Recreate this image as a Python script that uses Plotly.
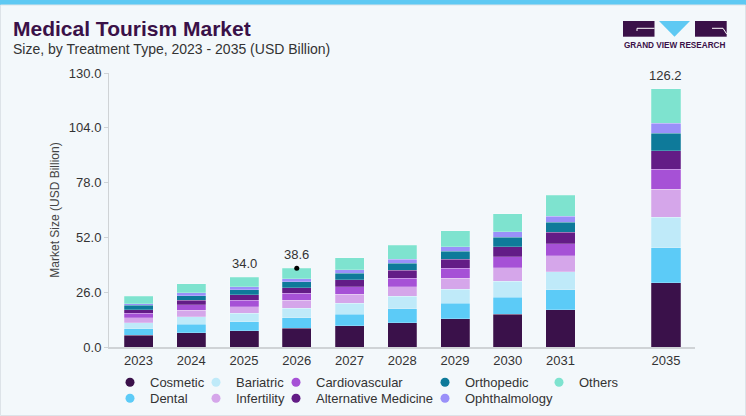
import plotly.graph_objects as go

# ---------------- data ----------------
years = ["2023", "2024", "2025", "2026", "2027", "2028", "2029", "2030", "2031", "2035"]
axis_categories = ["2023", "2024", "2025", "2026", "2027", "2028", "2029", "2030", "2031", " ", "2035"]

cosmetic = [5.5, 6.8, 7.8, 8.9, 10.2, 11.6, 13.3, 15.5, 17.7, 30.6]
dental = [3.2, 3.9, 4.3, 4.9, 5.4, 6.5, 7.4, 8.2, 9.5, 16.6]
bariatric = [2.8, 3.7, 3.9, 4.6, 5.1, 5.9, 6.6, 7.6, 8.5, 14.4]
infertility = [2.4, 3.0, 3.2, 3.8, 4.3, 4.7, 5.4, 6.4, 7.6, 13.3]
cardiovascular = [2.0, 2.6, 3.0, 3.2, 3.7, 3.9, 4.6, 5.2, 5.7, 9.5]
alternative_medicine = [1.8, 2.2, 2.5, 2.7, 3.1, 3.8, 4.3, 4.6, 5.4, 8.8]
orthopedic = [2.0, 2.2, 2.4, 2.8, 3.2, 3.3, 3.9, 4.6, 4.9, 8.3]
ophthalmology = [0.8, 1.3, 1.4, 1.6, 1.6, 1.9, 2.1, 2.5, 2.7, 4.7]
others = [3.5, 4.3, 4.7, 4.9, 5.7, 6.6, 7.6, 8.7, 10.0, 16.3]

label_years = ["2025", "2026", "2035"]
label_texts = ["34.0", "38.6", "126.2"]
dot_year = "2026"

y_ticks = [0, 26, 52, 78, 104, 130]

series = [
    ("Cosmetic", cosmetic, "#3a114a"),
    ("Dental", dental, "#5ccbf7"),
    ("Bariatric", bariatric, "#bfeaf9"),
    ("Infertility", infertility, "#d5a6ea"),
    ("Cardiovascular", cardiovascular, "#a651d6"),
    ("Alternative Medicine", alternative_medicine, "#631c86"),
    ("Orthopedic", orthopedic, "#0e7a9a"),
    ("Ophthalmology", ophthalmology, "#9a90f9"),
    ("Others", others, "#7ee3cf"),
]

# ---------------- layout geometry ----------------
W, H = 746, 416
L, R, T, B = 109, 695, 73, 347


def px(x):
    return (x - L) / (R - L)


def py(y):
    return (B - y) / (B - T)


FONT = "Liberation Sans, Arial, sans-serif"
TXT = "#333333"
DARK = "#3a1148"

fig = go.Figure()

for name, vals, color in series:
    fig.add_trace(go.Bar(
        x=years, y=vals, name=name,
        marker=dict(color=color, line=dict(color="rgba(255,255,255,0.45)", width=0.5)),
        width=0.55, showlegend=False, hoverinfo="skip",
    ))

# legend entries (circle markers), one small legend per entry (column layout)
legend_slots = [  # (marker x, row y) in pixels
    (134, 382.3), (134, 398.3),
    (220, 382.3), (220, 398.3),
    (300, 382.3), (300, 398.3),
    (449, 382.3), (449, 398.3),
    (563, 382.3),
]
legend_layout = {}
for i, ((name, vals, color), (cx, cy)) in enumerate(zip(series, legend_slots)):
    lg = "legend" if i == 0 else f"legend{i + 1}"
    fig.add_trace(go.Scatter(
        x=[None], y=[None], mode="markers", name=name,
        marker=dict(color=color, size=9, symbol="circle"),
        legend=lg, showlegend=True,
    ))
    legend_layout[lg] = dict(
        x=px(cx - 24), y=py(cy), xanchor="left", yanchor="middle",
        orientation="v", bgcolor="rgba(0,0,0,0)", borderwidth=0,
        font=dict(family=FONT, size=13, color=TXT), itemclick=False, itemdoubleclick=False,
    )

totals = [sum(v) for v in zip(*[s[1] for s in series])]
total_by_year = dict(zip(years, totals))

# small dot on top of 2026 bar
fig.add_trace(go.Scatter(
    x=[dot_year], y=[total_by_year[dot_year]], mode="markers",
    marker=dict(color="black", size=5), showlegend=False, hoverinfo="skip",
))

annotations = []
for yr, txt in zip(label_years, label_texts):
    annotations.append(dict(
        x=axis_categories.index(yr), y=total_by_year[yr], xref="x", yref="y", text=txt,
        showarrow=False, yanchor="bottom", yshift=4,
        font=dict(family=FONT, size=13, color=TXT),
    ))

annotations += [
    dict(x=px(11), y=py(29), xref="paper", yref="paper", xanchor="left", yanchor="middle",
         text="<b>Medical Tourism Market</b>", showarrow=False,
         font=dict(family=FONT, size=21, color=DARK)),
    dict(x=px(11), y=py(48.5), xref="paper", yref="paper", xanchor="left", yanchor="middle",
         text="Size, by Treatment Type, 2023 - 2035 (USD Billion)", showarrow=False,
         font=dict(family=FONT, size=14, color=TXT)),
    dict(x=px(675), y=py(45.2), xref="paper", yref="paper", xanchor="center", yanchor="middle",
         text="<b>GRAND VIEW RESEARCH</b>", showarrow=False,
         font=dict(family=FONT, size=8.2, color=DARK)),
]

shapes = [
    # top stripe
    dict(type="rect", xref="paper", yref="paper", x0=px(0), x1=px(746), y0=py(0), y1=py(5),
         fillcolor="#5ec9f3", line=dict(width=0), layer="below"),
    # card border
    dict(type="rect", xref="paper", yref="paper", x0=px(0.5), x1=px(745.5), y0=py(5), y1=py(415.5),
         fillcolor="rgba(0,0,0,0)", line=dict(color="#dde3e8", width=1), layer="below"),
    # logo G
    dict(type="rect", xref="paper", yref="paper", x0=px(623), x1=px(654.5), y0=py(21), y1=py(36.7),
         fillcolor=DARK, line=dict(width=0)),
    dict(type="path", xref="paper", yref="paper",
         path=f"M {px(654.5)},{py(28.3)} L {px(637)},{py(28.3)} L {px(637)},{py(31)}",
         line=dict(color="white", width=1)),
    # logo V
    dict(type="path", xref="paper", yref="paper",
         path=f"M {px(659)},{py(21)} L {px(690)},{py(21)} L {px(674.5)},{py(36.7)} Z",
         fillcolor="#5ec9f3", line=dict(width=0)),
    # logo R
    dict(type="rect", xref="paper", yref="paper", x0=px(695), x1=px(726.7), y0=py(21), y1=py(36.7),
         fillcolor=DARK, line=dict(width=0)),
    dict(type="path", xref="paper", yref="paper",
         path=f"M {px(712)},{py(28.3)} L {px(723)},{py(28.3)} L {px(726.7)},{py(34)}",
         line=dict(color="white", width=1)),
]

fig.update_layout(
    width=W, height=H, autosize=False,
    margin=dict(l=L, r=W - R, t=T, b=H - B, pad=0, autoexpand=False),
    paper_bgcolor="#f3f8fb", plot_bgcolor="#f3f8fb",
    barmode="stack", bargap=0.45,
    font=dict(family=FONT, size=13, color=TXT),
    xaxis=dict(
        type="category", categoryorder="array", categoryarray=axis_categories,
        range=[-0.56, 10.55], showgrid=False, zeroline=False,
        showline=True, linecolor="#cfd3d6", linewidth=2, ticks="",
        tickfont=dict(family=FONT, size=13, color=TXT), fixedrange=True,
    ),
    yaxis=dict(
        range=[0, 130], tickvals=y_ticks, tickformat=".1f",
        showgrid=False, zeroline=False, showline=True, linecolor="#cfd3d6", linewidth=1,
        ticks="outside", ticklen=4, tickcolor="#cfd3d6",
        tickfont=dict(family=FONT, size=13, color=TXT),
        title=dict(text="Market Size (USD Billion)", standoff=6,
                   font=dict(family=FONT, size=12, color="#444444")),
        fixedrange=True,
    ),
    annotations=annotations,
    shapes=shapes,
    **legend_layout,
)

fig.write_html(
    "out.html",
    config={"responsive": False, "displayModeBar": False},
    post_script="document.body.style.margin='0';document.body.style.overflow='hidden';",
)
